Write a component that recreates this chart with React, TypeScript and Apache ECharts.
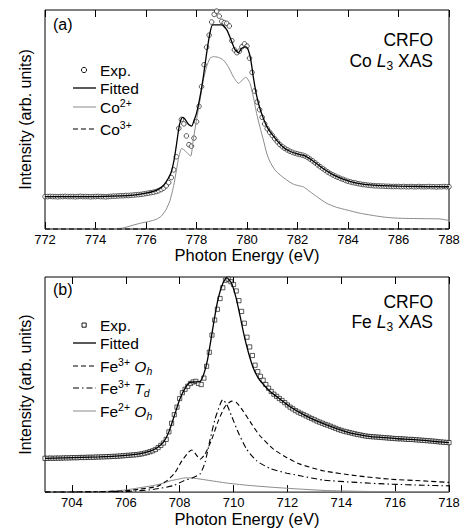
import React, { useEffect, useRef } from "react";
import * as echarts from "echarts";

const FONT = '"Liberation Sans", Arial, Helvetica, sans-serif';

// ---------- Panel (a): Co L3 XAS ----------
const coTicks = [772, 774, 776, 778, 780, 782, 784, 786, 788];
const coExpStart = 772;
const coExpStep = 0.1;
const coExp = [
  0.148, 0.148, 0.149, 0.148, 0.148, 0.147, 0.148, 0.148, 0.149, 0.148,
  0.148, 0.148, 0.147, 0.148, 0.149, 0.148, 0.148, 0.148, 0.147, 0.148,
  0.148, 0.149, 0.148, 0.148, 0.147, 0.148, 0.149, 0.150, 0.150, 0.151,
  0.152, 0.152, 0.153, 0.153, 0.154, 0.155, 0.156, 0.157, 0.158, 0.160,
  0.162, 0.164, 0.166, 0.168, 0.171, 0.175, 0.180, 0.187, 0.197, 0.212,
  0.235, 0.270, 0.330, 0.460, 0.500, 0.480, 0.425, 0.385, 0.378, 0.415,
  0.490, 0.560, 0.650, 0.750, 0.830, 0.885, 0.945, 0.980, 0.995, 0.972,
  0.948, 0.942, 0.939, 0.927, 0.860, 0.818, 0.805, 0.812, 0.832, 0.845,
  0.835, 0.780, 0.715, 0.630, 0.580, 0.545, 0.510, 0.480, 0.458, 0.442,
  0.427, 0.412, 0.398, 0.386, 0.376, 0.368, 0.361, 0.355, 0.350, 0.346,
  0.343, 0.340, 0.337, 0.333, 0.327, 0.319, 0.311, 0.302, 0.293, 0.284,
  0.276, 0.268, 0.260, 0.253, 0.247, 0.241, 0.236, 0.231, 0.227, 0.222,
  0.218, 0.215, 0.212, 0.210, 0.207, 0.205, 0.203, 0.202, 0.200, 0.199,
  0.198, 0.197, 0.197, 0.196, 0.196, 0.195, 0.195, 0.194, 0.194, 0.194,
  0.194, 0.193, 0.194, 0.193, 0.193, 0.194, 0.193, 0.193, 0.194, 0.193,
  0.193, 0.193, 0.194, 0.193, 0.193, 0.192, 0.193, 0.193, 0.194, 0.193,
  0.193,
];
const coFit: [number, number][] = [
  [772, 0.148], [774, 0.148], [775, 0.151], [775.5, 0.155], [776, 0.164],
  [776.3, 0.172], [776.5, 0.182], [776.7, 0.2], [776.9, 0.235], [777.0, 0.26],
  [777.11, 0.315], [777.2, 0.38], [777.3, 0.46], [777.37, 0.495], [777.45, 0.51],
  [777.52, 0.505], [777.61, 0.49], [777.7, 0.476], [777.81, 0.47], [777.9, 0.495],
  [778.0, 0.528], [778.14, 0.604], [778.27, 0.695], [778.4, 0.802], [778.53, 0.893],
  [778.64, 0.932], [779.0, 0.932], [779.2, 0.909], [779.37, 0.863], [779.52, 0.82],
  [779.66, 0.805], [779.79, 0.825], [779.96, 0.832], [780.05, 0.817], [780.15, 0.772],
  [780.25, 0.695], [780.36, 0.62], [780.49, 0.558], [780.65, 0.505], [780.8, 0.465],
  [780.91, 0.445], [781.18, 0.405], [781.45, 0.372], [781.7, 0.355], [782.0, 0.343],
  [782.3, 0.334], [782.6, 0.312], [783.0, 0.277], [783.4, 0.248], [783.8, 0.228],
  [784.3, 0.211], [785.0, 0.2], [786, 0.196], [787, 0.194], [788, 0.193],
];
const co2: [number, number][] = [
  [772, 0], [775, 0.003], [775.5, 0.018], [775.8, 0.027], [776.1, 0.034],
  [776.4, 0.044], [776.6, 0.058], [776.8, 0.09], [776.95, 0.13], [777.1, 0.2],
  [777.2, 0.265], [777.3, 0.33], [777.41, 0.368], [777.5, 0.362], [777.61, 0.35],
  [777.77, 0.333], [777.87, 0.406], [778.0, 0.498], [778.14, 0.589], [778.27, 0.68],
  [778.4, 0.741], [778.53, 0.779], [778.67, 0.787], [778.86, 0.784], [779.06, 0.772],
  [779.26, 0.741], [779.46, 0.695], [779.66, 0.665], [779.85, 0.684], [779.96, 0.693],
  [780.12, 0.665], [780.25, 0.604], [780.38, 0.528], [780.51, 0.467], [780.65, 0.406],
  [780.78, 0.346], [780.91, 0.307], [781.11, 0.269], [781.31, 0.247], [781.57, 0.224],
  [781.83, 0.205], [782.1, 0.196], [782.23, 0.193], [782.5, 0.17], [782.76, 0.148],
  [783.16, 0.117], [783.55, 0.099], [783.95, 0.087], [784.48, 0.072], [785.14, 0.059],
  [785.53, 0.053], [786.06, 0.049], [787.12, 0.047], [787.64, 0.046], [787.9, 0.041],
  [788, 0.04],
];
const co3: [number, number][] = [[772, 0], [776, 0], [780, 0], [784, 0], [788, 0]];

// ---------- Panel (b): Fe L3 XAS ----------
const feTicks = [704, 706, 708, 710, 712, 714, 716, 718];
const feExpStart = 703;
const feExpStep = 0.1;
const feExp = [
  0.157, 0.157, 0.158, 0.157, 0.158, 0.158, 0.158, 0.159, 0.159, 0.159,
  0.160, 0.160, 0.160, 0.161, 0.161, 0.161, 0.162, 0.162, 0.162, 0.163,
  0.163, 0.164, 0.164, 0.165, 0.165, 0.166, 0.166, 0.167, 0.168, 0.169,
  0.170, 0.171, 0.172, 0.173, 0.174, 0.176, 0.178, 0.181, 0.184, 0.188,
  0.192, 0.198, 0.207, 0.217, 0.228, 0.245, 0.280, 0.320, 0.360, 0.395,
  0.435, 0.462, 0.478, 0.492, 0.505, 0.512, 0.515, 0.505, 0.500, 0.530,
  0.585, 0.650, 0.730, 0.800, 0.850, 0.900, 0.950, 0.985, 0.990, 0.978,
  0.965, 0.935, 0.890, 0.840, 0.785, 0.720, 0.675, 0.635, 0.590, 0.560,
  0.538, 0.520, 0.500, 0.483, 0.468, 0.455, 0.445, 0.435, 0.426, 0.416,
  0.405, 0.395, 0.387, 0.379, 0.372, 0.366, 0.360, 0.354, 0.348, 0.342,
  0.336, 0.330, 0.325, 0.320, 0.315, 0.311, 0.306, 0.301, 0.296, 0.291,
  0.287, 0.283, 0.280, 0.277, 0.274, 0.271, 0.268, 0.266, 0.263, 0.261,
  0.259, 0.258, 0.257, 0.256, 0.255, 0.254, 0.253, 0.252, 0.251, 0.250,
  0.249, 0.248, 0.248, 0.247, 0.246, 0.245, 0.245, 0.244, 0.243, 0.242,
  0.241, 0.240, 0.239, 0.238, 0.237, 0.236, 0.234, 0.233, 0.232, 0.231,
  0.230,
];
const feFit: [number, number][] = [
  [703, 0.157], [705, 0.164], [706, 0.171], [706.5, 0.178], [706.9, 0.19],
  [707.15, 0.205], [707.4, 0.232], [707.6, 0.28], [707.83, 0.366], [708.0, 0.43],
  [708.2, 0.482], [708.38, 0.51], [708.6, 0.512], [708.76, 0.514], [708.9, 0.55],
  [709.03, 0.612], [709.15, 0.7], [709.28, 0.8], [709.43, 0.9], [709.6, 0.97],
  [709.75, 0.997], [709.93, 0.97], [710.09, 0.905], [710.24, 0.82], [710.39, 0.73],
  [710.55, 0.65], [710.73, 0.578], [710.92, 0.53], [711.11, 0.5], [711.36, 0.468],
  [711.73, 0.432], [712.1, 0.397], [712.6, 0.36], [713.1, 0.33], [713.6, 0.306],
  [714.1, 0.284], [714.6, 0.268], [715.1, 0.258], [715.6, 0.253], [716.1, 0.248],
  [716.6, 0.245], [717.1, 0.24], [717.6, 0.234], [718, 0.23],
];
const fe3Oh: [number, number][] = [
  [703, 0], [705, 0.002], [706, 0.006], [706.53, 0.014], [707.15, 0.026],
  [707.52, 0.052], [707.83, 0.091], [708.08, 0.145], [708.32, 0.184], [708.45, 0.196],
  [708.57, 0.181], [708.76, 0.153], [708.94, 0.176], [709.19, 0.245], [709.43, 0.33],
  [709.68, 0.397], [709.93, 0.423], [710.12, 0.415], [710.36, 0.376], [710.68, 0.315],
  [710.98, 0.262], [711.48, 0.2], [711.98, 0.16], [712.47, 0.13], [713.33, 0.099],
  [714.57, 0.076], [715.81, 0.06], [717.05, 0.052], [718, 0.045],
];
const fe3Td: [number, number][] = [
  [703, 0], [706, 0.003], [707, 0.012], [707.76, 0.03], [708.14, 0.052],
  [708.51, 0.068], [708.76, 0.085], [708.94, 0.137], [709.13, 0.245], [709.31, 0.338],
  [709.5, 0.407], [709.6, 0.43], [709.75, 0.407], [709.93, 0.353], [710.18, 0.276],
  [710.49, 0.199], [710.86, 0.145], [711.36, 0.11], [711.98, 0.088], [712.47, 0.076],
  [713.33, 0.056], [714.57, 0.045], [715.81, 0.037], [717.05, 0.032], [718, 0.029],
];
const fe2Oh: [number, number][] = [
  [703, 0], [705, 0.002], [705.5, 0.005], [706, 0.01], [706.5, 0.02],
  [707, 0.03], [707.3, 0.038], [707.64, 0.052], [707.95, 0.06], [708.2, 0.066],
  [708.51, 0.065], [709.0, 0.056], [709.75, 0.042], [710.49, 0.032], [711.48, 0.022],
  [712.47, 0.014], [713.5, 0.007], [715, 0.003], [718, 0.001],
];

const GRAY = "#8a8a8a";

function toPairs(start: number, step: number, vals: number[]): [number, number][] {
  return vals.map((v, i) => [Math.round((start + i * step) * 100) / 100, v]);
}

function xAxes(grid: number, min: number, max: number, ticks: number[]) {
  const tick = {
    inside: true,
    length: 7,
    lineStyle: { color: "#000", width: 1 },
    customValues: ticks,
  };
  return [
    {
      gridIndex: grid,
      type: "value",
      min,
      max,
      position: "bottom",
      name: "Photon Energy (eV)",
      nameLocation: "middle",
      nameGap: 15,
      nameTextStyle: { fontSize: 16.5, fontFamily: FONT, color: "#000" },
      axisLine: { show: false },
      splitLine: { show: false },
      axisTick: tick,
      axisLabel: {
        customValues: ticks,
        fontSize: 13,
        fontFamily: FONT,
        color: "#000",
        margin: 4,
      },
    },
    {
      gridIndex: grid,
      type: "value",
      min,
      max,
      position: "top",
      axisLine: { show: false },
      splitLine: { show: false },
      axisTick: tick,
      axisLabel: { show: false },
    },
  ];
}

function yAxis(grid: number) {
  return {
    gridIndex: grid,
    type: "value",
    min: 0,
    max: 1,
    name: "Intensity (arb. units)",
    nameLocation: "middle",
    nameGap: 12,
    nameTextStyle: { fontSize: 16, fontFamily: FONT, color: "#000" },
    axisLine: { show: false },
    axisTick: { show: false },
    axisLabel: { show: false },
    splitLine: { show: false },
  };
}

const RICH = {
  n: { fontSize: 15.5, fontFamily: FONT, fill: "#000", lineHeight: 20, verticalAlign: "middle" },
  i: { fontSize: 15.5, fontFamily: FONT, fontStyle: "italic", fill: "#000", lineHeight: 20, verticalAlign: "middle" },
  sup: { fontSize: 10.5, fontFamily: FONT, fill: "#000", lineHeight: 12, verticalAlign: "top" },
  sub: { fontSize: 10.5, fontFamily: FONT, fill: "#000", lineHeight: 12, verticalAlign: "bottom" },
  isub: { fontSize: 10.5, fontFamily: FONT, fontStyle: "italic", fill: "#000", lineHeight: 12, verticalAlign: "bottom" },
  big: { fontSize: 17.5, fontFamily: FONT, fill: "#000", lineHeight: 22, verticalAlign: "middle" },
  bigi: { fontSize: 17.5, fontFamily: FONT, fontStyle: "italic", fill: "#000", lineHeight: 22, verticalAlign: "middle" },
  bigsub: { fontSize: 12, fontFamily: FONT, fill: "#000", lineHeight: 13, verticalAlign: "bottom" },
};

function label(x: number, y: number, text: string, align = "left") {
  return {
    type: "text",
    x,
    y,
    z: 100,
    style: {
      text,
      rich: RICH,
      textAlign: align,
      textVerticalAlign: "middle",
      fill: "#000",
      font: `15.5px ${FONT}`,
    },
  };
}

function legLine(y: number, stroke: string, width: number, dash?: number[]) {
  return {
    type: "line",
    z: 100,
    shape: { x1: 73, y1: y, x2: 96, y2: y },
    style: { stroke, lineWidth: width, lineDash: dash || null },
  };
}

const DASH = [5, 3];
const DASHDOT = [6, 3, 1.5, 3];

export default function App() {
  const ref = useRef<HTMLDivElement>(null);
  useEffect(() => {
    const chart = echarts.init(ref.current!, null, { renderer: "svg" });
    const option = {
      animation: false,
      backgroundColor: "#fff",
      grid: [
        { left: 45, top: 10, width: 404, height: 219, show: true, borderColor: "#000", borderWidth: 1, backgroundColor: "transparent" },
        { left: 45, top: 277, width: 404, height: 216, show: true, borderColor: "#000", borderWidth: 1, backgroundColor: "transparent" },
      ],
      xAxis: [...xAxes(0, 772, 788, coTicks), ...xAxes(1, 703, 718, feTicks)],
      yAxis: [yAxis(0), yAxis(1)],
      series: [
        {
          name: "Co2+",
          type: "line",
          xAxisIndex: 0,
          yAxisIndex: 0,
          data: co2,
          showSymbol: false,
          smooth: 0.2,
          lineStyle: { color: GRAY, width: 1 },
          silent: true,
        },
        {
          name: "Co3+",
          type: "line",
          xAxisIndex: 0,
          yAxisIndex: 0,
          data: co3,
          showSymbol: false,
          clip: false,
          lineStyle: { color: "#000", width: 1.2, type: DASH },
          silent: true,
        },
        {
          name: "Co Exp.",
          type: "scatter",
          xAxisIndex: 0,
          yAxisIndex: 0,
          data: toPairs(coExpStart, coExpStep, coExp),
          symbol: "circle",
          symbolSize: 4.6,
          itemStyle: { color: "#fff", borderColor: "#000", borderWidth: 0.8 },
          silent: true,
        },
        {
          name: "Co Fitted",
          type: "line",
          xAxisIndex: 0,
          yAxisIndex: 0,
          data: coFit,
          showSymbol: false,
          smooth: 0.2,
          lineStyle: { color: "#000", width: 1.3 },
          silent: true,
        },
        {
          name: "Fe2+ Oh",
          type: "line",
          xAxisIndex: 2,
          yAxisIndex: 1,
          data: fe2Oh,
          showSymbol: false,
          smooth: 0.2,
          lineStyle: { color: GRAY, width: 1 },
          silent: true,
        },
        {
          name: "Fe3+ Oh",
          type: "line",
          xAxisIndex: 2,
          yAxisIndex: 1,
          data: fe3Oh,
          showSymbol: false,
          smooth: 0.2,
          lineStyle: { color: "#000", width: 1.1, type: DASH },
          silent: true,
        },
        {
          name: "Fe3+ Td",
          type: "line",
          xAxisIndex: 2,
          yAxisIndex: 1,
          data: fe3Td,
          showSymbol: false,
          smooth: 0.2,
          lineStyle: { color: "#000", width: 1.1, type: DASHDOT },
          silent: true,
        },
        {
          name: "Fe Exp.",
          type: "scatter",
          xAxisIndex: 2,
          yAxisIndex: 1,
          data: toPairs(feExpStart, feExpStep, feExp),
          symbol: "rect",
          symbolSize: 4.2,
          itemStyle: { color: "#fff", borderColor: "#000", borderWidth: 0.8 },
          silent: true,
        },
        {
          name: "Fe Fitted",
          type: "line",
          xAxisIndex: 2,
          yAxisIndex: 1,
          data: feFit,
          showSymbol: false,
          smooth: 0.2,
          lineStyle: { color: "#000", width: 1.3 },
          silent: true,
        },
      ],
      graphic: [
        // panel (a)
        { type: "text", x: 53, y: 24, z: 100, style: { text: "(a)", font: `16px ${FONT}`, fill: "#000", textVerticalAlign: "middle" } },
        { type: "text", x: 433, y: 40, z: 100, style: { text: "CRFO", font: `17.5px ${FONT}`, fill: "#000", textAlign: "right", textVerticalAlign: "middle" } },
        label(433, 61, "{big|Co }{bigi|L}{bigsub|3}{big| XAS}", "right"),
        { type: "circle", z: 100, shape: { cx: 84, cy: 70, r: 2.6 }, style: { fill: "#fff", stroke: "#000", lineWidth: 0.9 } },
        label(100, 70, "{n|Exp.}"),
        legLine(88, "#000", 1.3),
        label(100, 88, "{n|Fitted}"),
        legLine(107, GRAY, 1),
        label(100, 107, "{n|Co}{sup|2+}"),
        legLine(129, "#000", 1.2, DASH),
        label(100, 129, "{n|Co}{sup|3+}"),
        // panel (b)
        { type: "text", x: 53, y: 289, z: 100, style: { text: "(b)", font: `16px ${FONT}`, fill: "#000", textVerticalAlign: "middle" } },
        { type: "text", x: 433, y: 302, z: 100, style: { text: "CRFO", font: `17.5px ${FONT}`, fill: "#000", textAlign: "right", textVerticalAlign: "middle" } },
        label(433, 322, "{big|Fe }{bigi|L}{bigsub|3}{big| XAS}", "right"),
        { type: "rect", z: 100, shape: { x: 82, y: 323, width: 4.2, height: 4.2 }, style: { fill: "#fff", stroke: "#000", lineWidth: 0.9 } },
        label(100, 325, "{n|Exp.}"),
        legLine(343, "#000", 1.3),
        label(100, 343, "{n|Fitted}"),
        legLine(366, "#000", 1.1, DASH),
        label(100, 366, "{n|Fe}{sup|3+}{n| }{i|O}{isub|h}"),
        legLine(388, "#000", 1.1, DASHDOT),
        label(100, 388, "{n|Fe}{sup|3+}{n| }{i|T}{isub|d}"),
        legLine(411, GRAY, 1),
        label(100, 411, "{n|Fe}{sup|2+}{n| }{i|O}{isub|h}"),
      ],
    };
    chart.setOption(option as any);
    return () => chart.dispose();
  }, []);
  return (
    <div
      ref={ref}
      style={{ position: "absolute", left: 0, top: 0, width: 465, height: 528 }}
    />
  );
}
